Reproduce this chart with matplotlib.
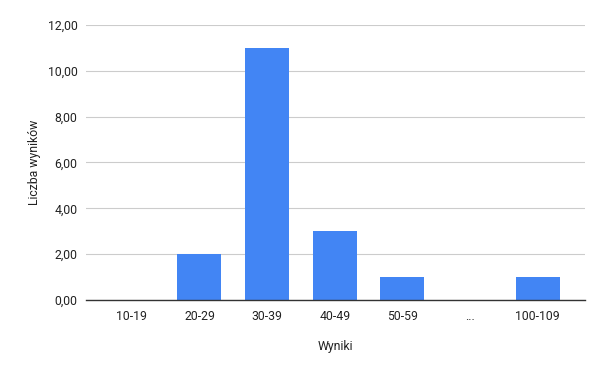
import matplotlib
matplotlib.use("Agg")
import matplotlib.pyplot as plt
import numpy as np

categories = ["10-19", "20-29", "30-39", "40-49", "50-59", "...", "100-109"]
counts = [0, 2, 11, 3, 1, 0, 1]
yticks = [0, 2, 4, 6, 8, 10, 12]

plt.rcParams["font.family"] = ["Roboto", "DejaVu Sans"]

fig = plt.figure(figsize=(6, 3.71), dpi=100)
ax = fig.add_axes([0.143, 0.191, 0.832, 0.742])

x = np.arange(len(categories))
ax.bar(x, counts, width=0.65, color="#4285f4", zorder=3)

ax.set_xlim(-0.68, len(categories) - 0.3)
ax.set_ylim(0, 12)
ax.set_yticks(yticks)
ax.set_yticklabels(["%d,00" % v for v in yticks])
ax.set_xticks(x)
ax.set_xticklabels(categories)

ax.grid(axis="y", color="#cccccc", linewidth=0.8, zorder=0)
for s in ["top", "right", "left"]:
    ax.spines[s].set_visible(False)
ax.spines["bottom"].set_color("#333333")
ax.spines["bottom"].set_linewidth(1.0)
ax.spines["bottom"].set_zorder(4)
ax.tick_params(axis="both", length=0, labelsize=8.8, labelcolor="#222222")
ax.tick_params(axis="x", pad=7)
ax.tick_params(axis="y", pad=6)

ax.set_xlabel("Wyniki", fontsize=8.8, color="#222222", labelpad=12)
ax.set_ylabel("Liczba wyników", fontsize=8.8, color="#222222", labelpad=5)

fig.savefig("out.png", dpi=100)
